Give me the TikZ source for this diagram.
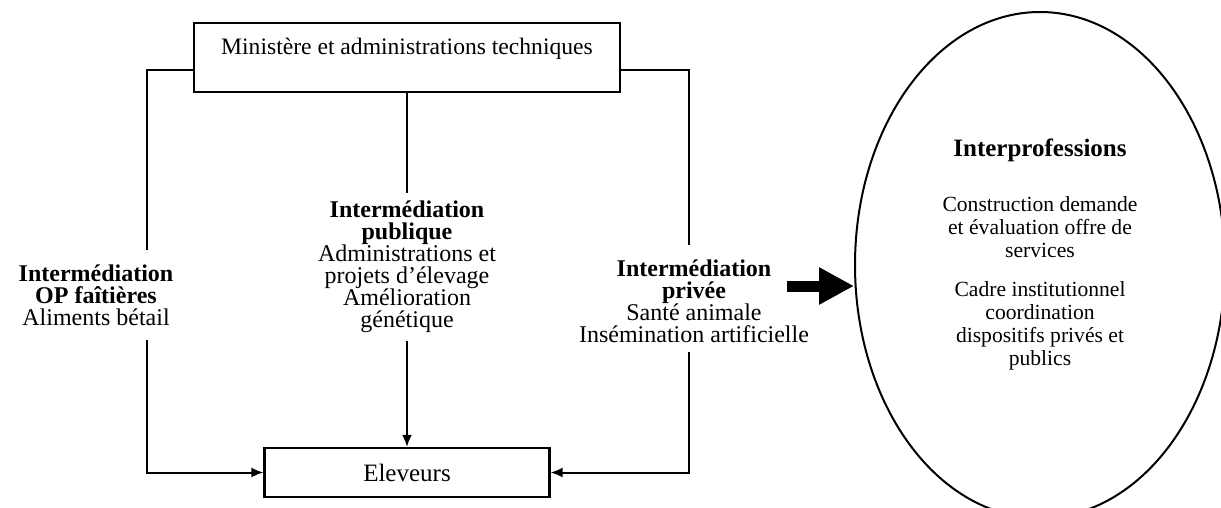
\documentclass[tikz,border=0pt]{standalone}
\usepackage{fontspec}
\setmainfont{Liberation Serif}
\usetikzlibrary{arrows.meta,shapes.geometric,calc}
\tikzstyle{bx} = [rectangle, draw, line width=1.1pt, inner sep=0pt,
    font=\fontsize{12}{14}\selectfont]
\tikzstyle{lbl} = [align=center, font=\fontsize{12}{11}\selectfont]

\begin{document}
\begin{tikzpicture}[x=0.5pt,y=-0.5pt,line width=1pt,
                    >={Latex[length=6pt,width=5pt]}]
  \useasboundingbox (0,0) rectangle (1221,508);

  \node[bx,font=\fontsize{11.8}{14}\selectfont,minimum width=213pt,minimum height=34.5pt,text height=9pt,text depth=12pt] (mini) at (407,57.5) {Ministère et administrations techniques};
  \node[bx,font=\fontsize{12.5}{14}\selectfont,minimum width=142.5pt,minimum height=24.5pt] (elev) at (407,472.5) {Eleveurs};

  \node[lbl] (op)   at (96,295)  {\textbf{Intermédiation}\\\textbf{OP faîtières}\\Aliments bétail};
  \node[lbl] (pub)  at (407,267) {\textbf{Intermédiation}\\\textbf{publique}\\Administrations et\\projets d’élevage\\Amélioration\\génétique};
  \node[lbl] (priv) at (694,301) {\textbf{Intermédiation}\\\textbf{privée}\\Santé animale\\Insémination artificielle};

  \node[ellipse,draw,inner sep=0pt,minimum width=185pt,minimum height=253pt] (inter) at (1040,265) {};
  \node[lbl,font=\fontsize{10.8}{11.5}\selectfont] (intertxt) at (1040,254)
    {{\fontsize{12.5}{15}\selectfont\bfseries Interprofessions}\\[16pt]
     Construction demande\\et évaluation offre de\\services\\[8pt]
     Cadre institutionnel\\coordination\\dispositifs privés et\\publics};

  \coordinate (lt) at (147,250);
  \coordinate (lb) at (147,340);
  \coordinate (rt) at (689,245);
  \coordinate (rb) at (689,352);
  \coordinate (arr) at (787,286);

  \draw ($(mini.west)+(0,13)$) -| (lt);
  \draw[->] (lb) |- (elev.west);
  \draw ($(mini.east)+(0,13)$) -| (rt);
  \draw[->] (rb) |- (elev.east);
  \draw (mini) -- (pub);
  \draw[->] (pub) -- (elev);
  \draw[-{Triangle[length=17.5pt,width=17.5pt]},line width=5.5pt] (arr) -- (arr -| inter.west);
\end{tikzpicture}
\end{document}
